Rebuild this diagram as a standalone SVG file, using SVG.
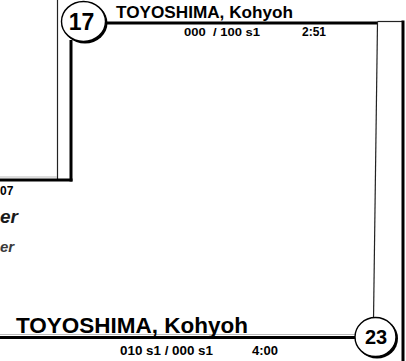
<svg xmlns="http://www.w3.org/2000/svg" width="406" height="361" viewBox="0 0 406 361">
<style>
.t{font-family:"Liberation Sans",Arial,sans-serif;font-weight:bold;fill:#000}
.thick{stroke:#000;stroke-width:3;fill:none}
.thin{stroke:#222;stroke-width:1.2;fill:none}
.faint{stroke:#bbb;stroke-width:1;fill:none}
.ring{fill:#fff;stroke:#000;stroke-width:1.4}
.shadow{fill:#000}
</style>
<rect width="406" height="361" fill="#fff"/>
<g id="connectors">
<line class="thin" x1="57.5" y1="0" x2="57.5" y2="181"/>
<line class="thick" x1="71" y1="40" x2="71" y2="181.5"/>
<line class="faint" x1="0" y1="177" x2="57" y2="177"/>
<line class="thick" x1="0" y1="180" x2="72.5" y2="180"/>
<line class="thick" x1="104" y1="23" x2="378" y2="23"/>
<line class="thin" x1="377.5" y1="22" x2="373.5" y2="320"/>
<line class="thin" x1="377.5" y1="21.5" x2="403" y2="21.5"/>
<line class="thick" x1="403" y1="20.5" x2="403" y2="361"/>
<line class="faint" x1="0" y1="334.5" x2="355" y2="334.5"/>
<line class="thick" x1="0" y1="337.5" x2="356" y2="337.5"/>
</g>
<g id="node-17">
<ellipse class="shadow" cx="85" cy="23" rx="22.5" ry="20.5"/>
<ellipse class="ring" cx="83.5" cy="21.5" rx="22" ry="20"/>
<text class="t" x="81.5" y="30" font-size="23" text-anchor="middle">17</text>
</g>
<g id="node-23">
<ellipse class="shadow" cx="377" cy="338.5" rx="21" ry="20"/>
<ellipse class="ring" cx="375.5" cy="337" rx="20.5" ry="19.5"/>
<text class="t" x="376" y="343.5" font-size="20" text-anchor="middle">23</text>
</g>
<g id="label-top">
<text class="t" x="116" y="18" font-size="17" textLength="177" lengthAdjust="spacingAndGlyphs">TOYOSHIMA, Kohyoh</text>
<text class="t" x="184" y="36" font-size="11.5" xml:space="preserve" textLength="76" lengthAdjust="spacingAndGlyphs">000  / 100 s1</text>
<text class="t" x="302" y="36" font-size="12">2:51</text>
</g>
<g id="label-bottom">
<text class="t" x="16" y="333" font-size="22.4" textLength="232" lengthAdjust="spacingAndGlyphs">TOYOSHIMA, Kohyoh</text>
<text class="t" x="120" y="355" font-size="13" textLength="93" lengthAdjust="spacingAndGlyphs">010 s1 / 000 s1</text>
<text class="t" x="252" y="355" font-size="13">4:00</text>
</g>
<g id="label-left">
<text class="t" x="0" y="195" font-size="12">07</text>
<text class="t" x="0" y="223" font-size="19" font-style="italic" style="fill:#1a1a1a">er</text>
<text class="t" x="0" y="252" font-size="15" font-style="italic" style="fill:#3a3a3a">er</text>
</g>
</svg>
